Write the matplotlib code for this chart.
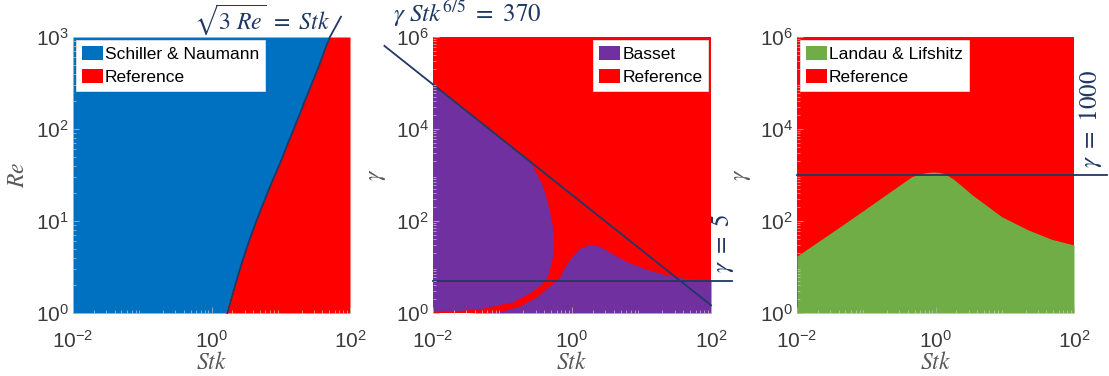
import numpy as np
import matplotlib
matplotlib.use("Agg")
import matplotlib.pyplot as plt
from matplotlib.patches import Patch
from matplotlib.ticker import LogLocator, NullFormatter

plt.rcParams['font.family'] = ['Liberation Sans', 'DejaVu Sans']
plt.rcParams['mathtext.fontset'] = 'stix'

BLUE = '#0070c0'
RED = '#ff0000'
PURPLE = '#7030a0'
GREEN = '#70ad47'
NAVY = '#1f3864'
LABEL = '#595959'
TICK = '#3a3a3a'

# --- Schiller & Naumann vs reference: boundary of the red region (Re, Stk)
sn_re = [1, 1.86, 3.47, 6.49, 12.1, 22.7, 42.4, 79.2, 148, 277, 516, 785, 1000]
sn_stk = [1.6, 2.05, 2.65, 3.52, 4.8, 6.72, 9.6, 13.4, 18.8, 26.1, 36.5, 44.6, 51]
# criterion curve sqrt(3 Re) = Stk, runs a little past the top of the axes
crit_re = [1, 1.86, 3.47, 6.49, 12.1, 22.7, 42.4, 79.2, 148, 277, 516, 785,
           1000, 1660]
crit_stk = [1.69, 2.13, 2.73, 3.6, 4.9, 6.84, 9.75, 13.6, 19, 26.4, 36.9, 45,
            51.3, 74]

# --- Basset: left region outline (Stk, gamma), closed along Stk = 0.01
bas_left_stk = [0.01, 0.02, 0.047, 0.143, 0.249, 0.366, 0.45, 0.51, 0.548,
                0.553, 0.54, 0.48, 0.386, 0.277, 0.223, 0.01]
bas_left_gam = [1.05, 1.08, 1.2, 1.7, 2.68, 4.06, 6.16, 12, 20,
                35, 64, 173, 557, 1515, 2240, 92900]
# Basset: lower-right region upper edge
bas_right_stk = [0.03, 0.092, 0.178, 0.31, 0.43, 0.57, 0.67, 0.79, 0.99, 1.3,
                 1.82, 2.5, 3.5, 6.1, 11.9, 23, 40, 100]
bas_right_gam = [1.0, 1.07, 1.42, 2.26, 3.44, 4.79, 6.16, 10.1, 16.8, 25.5,
                 31, 28, 21, 13, 8.9, 6.7, 5.7, 5.2]

# --- Landau & Lifshitz upper edge
ll_stk = [0.01, 0.028, 0.086, 0.26, 0.453, 0.632, 0.78, 0.93, 1.12, 1.37,
          1.8, 2.39, 3.3, 4.65, 9.03, 21.9, 47.6, 100]
ll_gam = [17.3, 49.6, 159, 512, 918, 1080, 1140, 1162, 1140, 1060,
          820, 580, 380, 260, 124, 63.7, 40, 30]

gamma_const = 370      # gamma * Stk^(6/5) = 370
gamma_low = 5
gamma_high = 1000

fig = plt.figure(figsize=(11.09, 3.76), dpi=100)
W, H = 1109.0, 376.0


def make_axes(left_px, width_px):
    return fig.add_axes([left_px / W, 1 - 313 / H, width_px / W, 276 / H])


def style(ax, ylim, yticks, ylab):
    ax.set_xscale('log')
    ax.set_yscale('log')
    ax.set_xlim(1e-2, 1e2)
    ax.set_ylim(*ylim)
    ax.set_xticks([1e-2, 1e0, 1e2])
    ax.set_yticks(yticks)
    ax.xaxis.set_minor_locator(LogLocator(base=10, subs=np.arange(2, 10), numticks=20))
    ax.yaxis.set_minor_locator(LogLocator(base=10, subs=np.arange(2, 10), numticks=20))
    ax.xaxis.set_minor_formatter(NullFormatter())
    ax.yaxis.set_minor_formatter(NullFormatter())
    ax.tick_params(which='major', direction='in', length=4, width=0.6,
                   color='#b0b0b0', labelsize=15, labelcolor=TICK)
    ax.tick_params(which='minor', direction='in', length=2.5, width=0.5,
                   color='#c8c8c8')
    ax.tick_params(axis='x', which='major', pad=12)
    ax.tick_params(axis='y', which='major', pad=3)
    for s in ax.spines.values():
        s.set_visible(False)
    ax.set_axisbelow(False)
    ax.set_xlabel('$Stk$', fontsize=17, color=LABEL)
    ax.set_ylabel(ylab, fontsize=17, color=LABEL)
    ax.xaxis.label.set_va('center')
    ax.yaxis.label.set_va('center')
    ax.xaxis.set_label_coords(0.5, -0.18)
    ax.yaxis.set_label_coords(-0.2, 0.5)


def legend(ax, colors, labels, loc):
    handles = [Patch(facecolor=c, edgecolor='none') for c in colors]
    leg = ax.legend(handles, labels, loc=loc, fontsize=12.5, frameon=True,
                    fancybox=False, framealpha=1, borderaxespad=0.15,
                    borderpad=0.35, handlelength=1.2, handleheight=0.85,
                    handletextpad=0.15, labelspacing=0.45)
    leg.get_frame().set_edgecolor('#e0e0e0')
    leg.get_frame().set_linewidth(0.6)


# Panel 1: Re vs Stk
ax1 = make_axes(73, 277)
ax1.fill_betweenx(sn_re, 1e-2, sn_stk, color=BLUE, lw=0)
ax1.fill_betweenx(sn_re, sn_stk, 1e2, color=RED, lw=0)
ax1.plot(crit_stk, crit_re, color=NAVY, lw=1.3, clip_on=False)
style(ax1, (1, 1e3), [1, 10, 100, 1000], '$Re$')
legend(ax1, [BLUE, RED], ['Schiller & Naumann', 'Reference'], 'upper left')
fig.text(262 / W, 1 - 20 / H, r'$\sqrt{3\ Re}\ =\ Stk$', fontsize=17,
         color=NAVY, ha='center', va='center')

# Panel 2: Basset
ax2 = make_axes(433, 278)
ax2.fill_between([1e-2, 1e2], 1, 1e6, color=RED, lw=0)
ax2.fill(bas_left_stk, bas_left_gam, color=PURPLE, lw=0)
ax2.fill_between(bas_right_stk, 1, bas_right_gam, color=PURPLE, lw=0)
stk_line = np.logspace(np.log10(0.002), 2, 100)
ax2.plot(stk_line, gamma_const * stk_line ** (-6 / 5), color=NAVY, lw=1.3,
         clip_on=False)
ax2.plot([1e-2, 200], [gamma_low, gamma_low], color=NAVY, lw=1.3, clip_on=False)
style(ax2, (1, 1e6), [1, 1e2, 1e4, 1e6], r'$\gamma$')
legend(ax2, [PURPLE, RED], ['Basset', 'Reference'], 'upper right')
fig.text(393 / W, 1 - 14 / H, r'$\gamma\ Stk^{6/5}\ =\ %d$' % gamma_const,
         fontsize=18, color=NAVY, ha='left', va='center')
fig.text(722 / W, 1 - 243 / H, r'$\gamma\ =\ %d$' % gamma_low, fontsize=18,
         color=NAVY, ha='center', va='center', rotation=90)

# Panel 3: Landau & Lifshitz
ax3 = make_axes(797, 277)
ax3.fill_between([1e-2, 1e2], 1, 1e6, color=RED, lw=0)
ax3.fill_between(ll_stk, 1, ll_gam, color=GREEN, lw=0)
ax3.plot([1e-2, 295], [gamma_high, gamma_high], color=NAVY, lw=1.3,
         clip_on=False)
style(ax3, (1, 1e6), [1, 1e2, 1e4, 1e6], r'$\gamma$')
legend(ax3, [GREEN, RED], ['Landau & Lifshitz', 'Reference'], 'upper left')
fig.text(1090 / W, 1 - 119 / H, r'$\gamma\ =\ %d$' % gamma_high, fontsize=18,
         color=NAVY, ha='center', va='center', rotation=90)

fig.savefig('out.png', dpi=100)
